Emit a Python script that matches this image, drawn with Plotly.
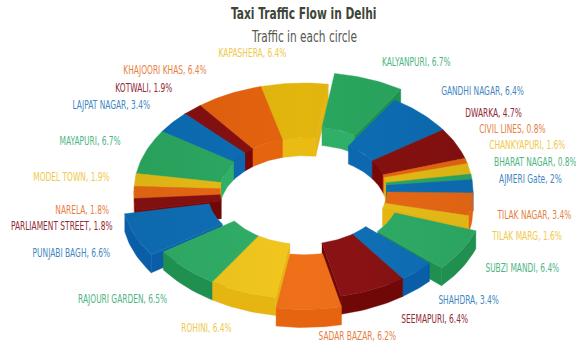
import math
import plotly.graph_objects as go

# Traffic share per circle, clockwise from the top of the ring
circles = ["KAPASHERA", "KALYANPURI", "GANDHI NAGAR", "DWARKA", "CIVIL LINES", "CHANKYAPURI",
           "BHARAT NAGAR", "AJMERI Gate", "TILAK NAGAR", "TILAK MARG", "SUBZI MANDI", "SHAHDRA",
           "SEEMAPURI", "SADAR BAZAR", "ROHINI", "RAJOURI GARDEN", "PUNJABI BAGH",
           "PARLIAMENT STREET", "NARELA", "MODEL TOWN", "MAYAPURI", "LAJPAT NAGAR", "KOTWALI",
           "KHAJOORI KHAS"]
shares = [6.4, 6.7, 6.4, 4.7, 0.8, 1.6, 0.8, 2, 3.4, 1.6, 6.4, 3.4, 6.4, 6.2, 6.4, 6.5, 6.6,
          1.8, 1.8, 1.9, 6.7, 3.4, 1.9, 6.4]

# Circles drawn away from the ring, with the distance they are moved
pulled_out = {"KALYANPURI": 18, "SUBZI MANDI": 14, "SADAR BAZAR": 16.5, "PUNJABI BAGH": 13}

# Colour family of each circle
Y, G, B, R, O = "yellow", "green", "blue", "red", "orange"
families = [Y, G, B, R, O, Y, G, B, O, Y, G, B, R, O, Y, G, B, R, O, Y, G, B, R, O]
top_far = {Y: "#E3B60E", G: "#29A75F", B: "#0C6DB5", R: "#87100F", O: "#E4620E"}
top_near = {Y: "#F3C81F", G: "#31B06A", B: "#1072BA", R: "#8B1214", O: "#F0701A"}
hole_wall = {Y: "#EABB12", G: "#2FAF68", B: "#0D68B0", R: "#7A0606", O: "#E5650F"}
outer_wall = {Y: "#E6B512", G: "#1F9050", B: "#0A5EA8", R: "#700808", O: "#E6640F"}
label_colors = {Y: "#EFC94A", G: "#4DB583", B: "#3F87C2", R: "#8F2A38", O: "#E67F42"}

# Label centres on the canvas
label_places = {
    "KAPASHERA": (252, 53), "KALYANPURI": (416, 62), "GANDHI NAGAR": (482, 91),
    "DWARKA": (493.5, 113), "CIVIL LINES": (512, 129), "CHANKYAPURI": (527, 145),
    "BHARAT NAGAR": (535, 162), "AJMERI Gate": (530, 179), "TILAK NAGAR": (534, 215),
    "TILAK MARG": (526, 236), "SUBZI MANDI": (522, 268), "SHAHDRA": (468, 300),
    "SEEMAPURI": (434, 319), "SADAR BAZAR": (357, 336), "ROHINI": (206, 328),
    "RAJOURI GARDEN": (122, 299), "PUNJABI BAGH": (71, 253), "PARLIAMENT STREET": (61, 226),
    "NARELA": (82, 210), "MODEL TOWN": (71, 177), "MAYAPURI": (90, 141),
    "LAJPAT NAGAR": (111, 105), "KOTWALI": (143.5, 88), "KHAJOORI KHAS": (165, 70),
}

# Ring projection, in canvas units
CX, CY = 303.5, 191
RX, RY = 169.5, 108
HOLE = 0.493
DEPTH = 18
START_DEG = -14.6
FONT = "DejaVu Sans"


def to_rgb(color):
    return [int(color[i:i + 2], 16) for i in (1, 3, 5)]


def to_hex(rgb):
    return "#" + "".join(f"{max(0, min(255, round(v))):02X}" for v in rgb)


def mix(c0, c1, t):
    return to_hex([a + (b - a) * t for a, b in zip(to_rgb(c0), to_rgb(c1))])


def shade(color, factor):
    return to_hex([v * factor for v in to_rgb(color)])


def project(radius, deg, dx=0, dy=0, drop=0):
    a = math.radians(deg)
    return CX + dx + radius * RX * math.sin(a), CY + dy - radius * RY * math.cos(a) + drop


def arc(radius, a0, a1, dx, dy, drop=0):
    n = max(2, int(abs(a1 - a0) / 1.5) + 2)
    return [project(radius, a0 + (a1 - a0) * i / (n - 1), dx, dy, drop) for i in range(n)]


def spans_within(a0, a1, lo, hi):
    spans = []
    for k in (-1, 0, 1):
        s, e = max(a0, lo + 360 * k), min(a1, hi + 360 * k)
        if e > s:
            spans.append((s, e))
    return spans


fig = go.Figure()


def add_face(points, color, sheen=True):
    # The ring darkens a little towards its left and right ends
    style = dict(fillcolor=color)
    if sheen:
        edge = shade(color, 0.93)
        style = dict(fillgradient=dict(type="horizontal", start=CX - RX - 20, stop=CX + RX + 20,
                                       colorscale=[[0, edge], [0.5, color], [1, edge]]))
    fig.add_trace(go.Scatter(
        x=[p[0] for p in points] + [points[0][0]],
        y=[p[1] for p in points] + [points[0][1]],
        mode="lines", fill="toself",
        line=dict(color=shade(color, 0.97), width=0.4), hoverinfo="skip", showlegend=False,
        **style,
    ))


total = sum(shares)
slices = []
cursor = START_DEG
for name, share, family in zip(circles, shares, families):
    sweep = share / total * 360
    slices.append((name, share, family, cursor, cursor + sweep))
    cursor += sweep

# Paint from the far side of the ring towards the viewer
for name, share, family, a0, a1 in sorted(slices, key=lambda s: math.cos(math.radians((s[3] + s[4]) / 2)), reverse=True):
    mid = math.radians((a0 + a1) / 2)
    pull = pulled_out.get(name, 0)
    dx = pull * math.sin(mid)
    dy = -pull * (RY / RX) * math.cos(mid)
    top = mix(top_near[family], top_far[family], (math.cos(mid) + 1) / 2)

    for s, e in spans_within(a0, a1, -90, 90):
        add_face(arc(HOLE, s, e, dx, dy) + arc(HOLE, e, s, dx, dy, DEPTH), hole_wall[family], sheen=False)
    for deg, visible in ((a0, math.sin(math.radians(a0)) < 0), (a1, math.sin(math.radians(a1)) > 0)):
        if visible:
            add_face([project(HOLE, deg, dx, dy), project(1, deg, dx, dy),
                      project(1, deg, dx, dy, DEPTH), project(HOLE, deg, dx, dy, DEPTH)],
                     outer_wall[family], sheen=False)
    for s, e in spans_within(a0, a1, 90, 270):
        add_face(arc(1, s, e, dx, dy) + arc(1, e, s, dx, dy, DEPTH), outer_wall[family], sheen=False)
    add_face(arc(1, a0, a1, dx, dy) + arc(HOLE, a1, a0, dx, dy), top)

    x, y = label_places[name]
    fig.add_annotation(x=x, y=y, text=f"{name}, {share}%", showarrow=False, yanchor="middle",
                       font=dict(family=FONT, size=12, color=label_colors[family]))

fig.add_annotation(x=303.5, y=13, text="<b>Taxi Traffic Flow in Delhi</b>", showarrow=False,
                   font=dict(family=FONT, size=16.5, color="#3E4637"))
fig.add_annotation(x=303.5, y=36, text="Traffic in each circle", showarrow=False,
                   font=dict(family=FONT, size=16, color="#55594F"))

fig.update_layout(
    width=576, height=343, margin=dict(l=0, r=0, t=0, b=0),
    paper_bgcolor="white", plot_bgcolor="white",
    xaxis=dict(range=[0, 576], visible=False, fixedrange=True),
    yaxis=dict(range=[343, 0], visible=False, fixedrange=True),
)

# All captions are set in a horizontally condensed cut of the typeface
condense = """
var gd = document.getElementById('{plot_id}');
function condense() {
  gd.querySelectorAll('.annotation-text').forEach(function (t) {
    if (t.getAttribute('data-condensed')) return;
    var size = parseFloat(t.style.fontSize);
    var ratio = size > 16.2 ? 0.646 : (size > 13 ? 0.66 : 0.622);
    t.setAttribute('textLength', t.getComputedTextLength() * ratio);
    t.setAttribute('lengthAdjust', 'spacingAndGlyphs');
    t.setAttribute('data-condensed', '1');
    var box = t.parentNode.querySelector('rect.bg');
    if (box) {
      var w = parseFloat(box.getAttribute('width'));
      var left = parseFloat(box.getAttribute('x')) || 0;
      box.setAttribute('x', left + w * (1 - ratio) / 2);
      box.setAttribute('width', w * ratio);
    }
  });
}
condense();
setTimeout(condense, 30);
gd.on('plotly_afterplot', condense);
"""
fig.write_html("out.html", config={"displayModeBar": False}, post_script=condense)
